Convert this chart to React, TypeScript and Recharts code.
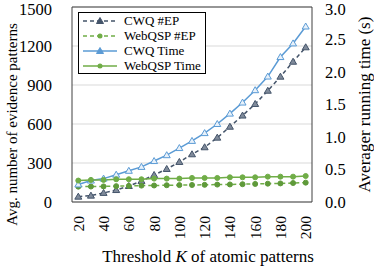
import {
  LineChart,
  Line,
  XAxis,
  YAxis,
  CartesianGrid,
  Legend,
  ReferenceLine,
} from 'recharts';

const K_VALUES = [20, 30, 40, 50, 60, 70, 80, 90, 100, 110, 120, 130, 140, 150, 160, 170, 180, 190, 200];
const CWQ_EP = [41, 49, 70, 92, 123, 162, 208, 254, 308, 367, 421, 495, 579, 665, 754, 856, 964, 1079, 1190];
const WEBQSP_EP = [118, 119, 120, 122, 124, 126, 127, 129, 130, 131, 132, 134, 135, 137, 139, 141, 143, 146, 149];
const CWQ_TIME = [0.27, 0.33, 0.36, 0.42, 0.48, 0.54, 0.63, 0.72, 0.83, 0.94, 1.06, 1.2, 1.36, 1.53, 1.72, 1.93, 2.23, 2.44, 2.7];
const WEBQSP_TIME = [0.33, 0.34, 0.34, 0.35, 0.35, 0.35, 0.36, 0.36, 0.36, 0.37, 0.37, 0.37, 0.38, 0.38, 0.38, 0.39, 0.39, 0.39, 0.4];

const EP_TICKS = [0, 300, 600, 900, 1200, 1500];
const TIME_TICKS = [0, 0.5, 1, 1.5, 2, 2.5, 3];

const COLORS = {
  cwqEp: '#44546A',
  webEp: '#70AD47',
  cwqTime: '#5B9BD5',
  webTime: '#70AD47',
  axis: '#404040',
  grid: '#d9d9d9',
};

const FONT = 'Liberation Serif, Times New Roman, serif';
const SERIF = { fontFamily: FONT };

const data = K_VALUES.map((k, i) => ({
  k,
  cwqEp: CWQ_EP[i],
  webEp: WEBQSP_EP[i],
  cwqTime: CWQ_TIME[i],
  webTime: WEBQSP_TIME[i],
}));

const SERIES = [
  { key: 'cwqEp', name: 'CWQ #EP', color: COLORS.cwqEp, dashed: true, marker: 'triangle' },
  { key: 'webEp', name: 'WebQSP #EP', color: COLORS.webEp, dashed: true, marker: 'circle' },
  { key: 'cwqTime', name: 'CWQ Time', color: COLORS.cwqTime, dashed: false, marker: 'triangle' },
  { key: 'webTime', name: 'WebQSP Time', color: COLORS.webTime, dashed: false, marker: 'circle' },
];

const triangleDot = (color: string, fill: string) => (props: any) => {
  const { cx, cy, index } = props;
  if (cx == null || cy == null) return <g key={index} />;
  return (
    <path
      key={index}
      d={`M${cx},${cy - 3.5}L${cx + 3.5},${cy + 2.5}L${cx - 3.5},${cy + 2.5}Z`}
      fill={fill}
      stroke={color}
      strokeWidth={1}
    />
  );
};

const XTick = (props: any) => {
  const { x, y, payload } = props;
  return (
    <text
      x={x}
      y={y + 12}
      transform={`rotate(-90, ${x}, ${y + 12})`}
      textAnchor="end"
      dy="0.35em"
      fontSize={15.5}
      fill="#000"
      style={SERIF}
    >
      {payload.value}
    </text>
  );
};

const YTick = (props: any) => {
  const { x, y, payload, textAnchor, tickFormatter } = props;
  const label = tickFormatter ? tickFormatter(payload.value) : payload.value;
  return (
    <text x={x} y={y} textAnchor={textAnchor} dy="0.35em" fontSize={16.5} fill="#000" style={SERIF}>
      {label}
    </text>
  );
};

const LegendSample = ({ color, dashed, marker }: any) => (
  <svg width={36} height={10} style={{ verticalAlign: 'middle', marginRight: 6 }}>
    <line x1={1} y1={5} x2={35} y2={5} stroke={color} strokeWidth={1.5} strokeDasharray={dashed ? '4 3' : undefined} />
    {marker === 'triangle' ? (
      <path d="M18,1.5L21.5,7.5L14.5,7.5Z" fill={color} stroke={color} />
    ) : (
      <circle cx={18} cy={5} r={2.5} fill={color} />
    )}
  </svg>
);

const renderLegend = () => (
  <div
    style={{
      border: '1px solid #000',
      background: '#fff',
      width: 126,
      padding: 0,
      fontFamily: FONT,
      fontSize: 13,
      lineHeight: '15px',
      color: '#000',
    }}
  >
    {SERIES.map((s) => (
      <div key={s.key} style={{ display: 'flex', alignItems: 'center', paddingLeft: 3, height: 15 }}>
        <LegendSample color={s.color} dashed={s.dashed} marker={s.marker} />
        <span>{s.name}</span>
      </div>
    ))}
  </div>
);

const LeftTitle = (props: any) => {
  const { viewBox } = props;
  const x = viewBox.x + 12;
  const y = viewBox.y + viewBox.height / 2 + 20;
  return (
    <text x={x} y={y} transform={`rotate(-90, ${x}, ${y})`} textAnchor="middle" dy="0.35em" fontSize={15} style={SERIF} fill="#000">
      Avg. number of evidence patterns
    </text>
  );
};

const RightTitle = (props: any) => {
  const { viewBox } = props;
  const x = viewBox.x + viewBox.width - 10;
  const y = viewBox.y + viewBox.height / 2;
  return (
    <text x={x} y={y} transform={`rotate(-90, ${x}, ${y})`} textAnchor="middle" dy="0.35em" fontSize={17} style={SERIF} fill="#000">
      Averager running time (s)
    </text>
  );
};

const BottomTitle = (props: any) => {
  const { viewBox } = props;
  const x = viewBox.x + viewBox.width / 2 + 16;
  const y = viewBox.y + 60;
  return (
    <text x={x} y={y} textAnchor="middle" fontSize={17} style={SERIF} fill="#000">
      Threshold <tspan fontStyle="italic">K</tspan> of atomic patterns
    </text>
  );
};

export default function App() {
  return (
    <div style={{ position: 'absolute', left: 0, top: 0, width: 374, height: 266, background: '#fff', fontFamily: FONT }}>
      <LineChart
        width={374}
        height={266}
        data={data}
        margin={{ top: 7, right: 0, bottom: 0, left: 0 }}
        style={SERIF}
      >
        <CartesianGrid yAxisId="ep" vertical={false} stroke={COLORS.grid} />
        <XAxis
          dataKey="k"
          height={64}
          interval={1}
          padding={{ left: 6.3, right: 6.3 }}
          tickLine={false}
          tickSize={0}
          tick={<XTick />}
          axisLine={{ stroke: COLORS.axis }}
          label={<BottomTitle />}
        />
        <YAxis
          yAxisId="ep"
          width={72}
          domain={[0, 1500]}
          ticks={EP_TICKS}
          tickLine={false}
          tickSize={0}
          tickMargin={20}
          axisLine={{ stroke: COLORS.axis }}
          tick={<YTick />}
          label={<LeftTitle />}
        />
        <YAxis
          yAxisId="time"
          orientation="right"
          width={62}
          domain={[0, 3]}
          ticks={TIME_TICKS}
          tickLine={false}
          tickSize={0}
          tickMargin={13}
          tickFormatter={(v: number) => v.toFixed(1)}
          axisLine={{ stroke: COLORS.axis }}
          tick={<YTick />}
          label={<RightTitle />}
        />
        <ReferenceLine yAxisId="ep" y={1500} stroke={COLORS.axis} />
        <Legend
          layout="horizontal"
          verticalAlign="middle"
          align="center"
          content={renderLegend}
          wrapperStyle={{ position: 'absolute', top: 12, left: 78, width: 128 }}
        />
        <Line
          yAxisId="ep"
          dataKey="cwqEp"
          name="CWQ #EP"
          stroke={COLORS.cwqEp}
          strokeWidth={1.5}
          strokeDasharray="4 3"
          dot={triangleDot(COLORS.cwqEp, '#7f8a9a')}
          isAnimationActive={false}
        />
        <Line
          yAxisId="ep"
          dataKey="webEp"
          name="WebQSP #EP"
          stroke={COLORS.webEp}
          strokeWidth={1.5}
          strokeDasharray="4 3"
          dot={{ r: 2.5, fill: '#5f9a3a', stroke: '#5f9a3a', strokeWidth: 1, strokeDasharray: '' }}
          isAnimationActive={false}
        />
        <Line
          yAxisId="time"
          dataKey="cwqTime"
          name="CWQ Time"
          stroke={COLORS.cwqTime}
          strokeWidth={1.5}
          dot={triangleDot(COLORS.cwqTime, '#e8f1fa')}
          isAnimationActive={false}
        />
        <Line
          yAxisId="time"
          dataKey="webTime"
          name="WebQSP Time"
          stroke={COLORS.webTime}
          strokeWidth={1.5}
          dot={{ r: 2.5, fill: COLORS.webTime, stroke: COLORS.webTime, strokeWidth: 1 }}
          isAnimationActive={false}
        />
      </LineChart>
    </div>
  );
}
